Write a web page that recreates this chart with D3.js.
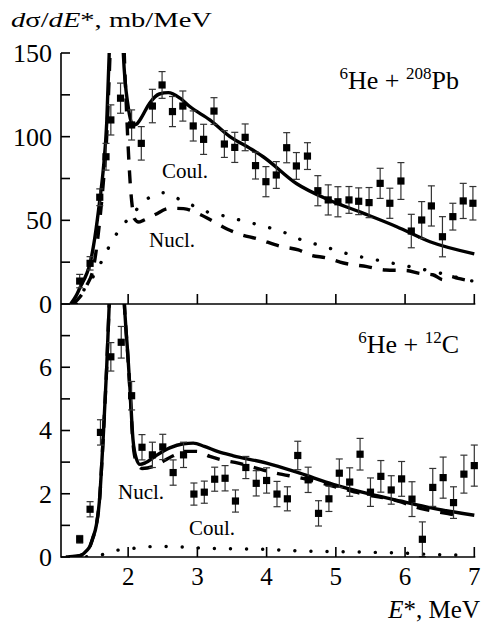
<!DOCTYPE html>
<html>
<head>
<meta charset="utf-8">
<script src="https://cdn.jsdelivr.net/npm/d3@7"></script>
<style>
  html, body { margin: 0; padding: 0; background: #fff; }
  svg { display: block; font-family: "Liberation Serif", "Times New Roman", serif; }
</style>
</head>
<body>
<svg id="chart" width="483" height="624"></svg>
<script>
// ---------- data ----------
const xTicks = [2, 3, 4, 5, 6, 7];
const pbTicksMajor = [0, 50, 100, 150];
const pbTicksMinor = [25, 75, 125];
const cTicksMajor = [0, 2, 4, 6];
const cTicksMinor = [1, 3, 5, 7];

// 6He + 208Pb measured points
const pbE = [1.30, 1.45, 1.59, 1.68, 1.75, 1.89, 2.05, 2.19, 2.35, 2.49, 2.64, 2.79, 2.94, 3.09, 3.24, 3.39, 3.54, 3.69, 3.84, 3.99,
             4.14, 4.29, 4.43, 4.59, 4.74, 4.89, 5.03, 5.19, 5.33, 5.48, 5.64, 5.78, 5.94, 6.09, 6.24, 6.38, 6.54, 6.69, 6.84, 6.98];
const pbVal = [13.7, 24.3, 63.8, 88, 110, 123, 107, 96, 118.3, 130.9, 115, 118.3, 106.4, 98.4, 115.3, 95.6, 93.6, 99.6, 82.7, 73.1,
               77.1, 93.4, 82.5, 88.4, 67.7, 62.2, 61.1, 62.2, 61.4, 60.6, 72.1, 60.2, 73.5, 43.6, 50.2, 58.6, 40.2, 52.2, 61.6, 60.2];
const pbErr = [4, 4, 5, 8, 9, 9, 9, 10, 10, 8, 9, 9, 9, 9, 8, 8, 9, 8, 8, 9,
               8, 9, 8, 8, 9, 9, 9, 8, 8, 9, 9, 9, 11, 10, 11, 12, 12, 8, 10.5, 10];

// 6He + 208Pb calculations: total, nuclear, Coulomb
const pbTotal = [[1.17, 0], [1.25, 5], [1.30, 9.4], [1.40, 18], [1.45, 24.3], [1.52, 40], [1.59, 62], [1.64, 80], [1.69, 108],
                 [1.725, 148], [1.76, 200], [1.83, 280], [1.90, 200], [1.93, 150], [2.0, 118], [2.07, 107], [2.12, 107.5],
                 [2.17, 110], [2.31, 120], [2.45, 125.5], [2.58, 126.3], [2.75, 123], [2.89, 118], [3.18, 110], [3.47, 100],
                 [3.76, 93], [3.95, 88], [4.43, 72], [4.91, 62], [5.40, 54.2], [5.88, 46.2], [6.36, 37.2], [7.0, 30]];
const pbNucl = [[1.2, 0], [1.3, 4], [1.4, 11], [1.5, 22], [1.59, 50], [1.64, 72], [1.69, 100], [1.73, 140], [1.78, 200],
                [1.85, 260], [1.91, 200], [1.95, 142], [1.97, 122], [2.0, 94], [2.03, 72], [2.06, 58], [2.09, 51], [2.15, 49],
                [2.22, 50], [2.39, 53.5], [2.6, 57.2], [2.8, 57], [3.04, 53.5], [3.2, 50], [3.42, 45], [3.59, 42], [3.86, 39],
                [4.22, 34.3], [4.46, 32.3], [4.63, 29.3], [4.87, 27.5], [5.11, 24.5], [5.45, 22.3], [5.72, 20.3], [6.02, 20],
                [6.21, 18.3], [6.4, 17.5], [6.55, 14.5], [6.65, 16.5], [6.75, 15.5], [7.0, 13.3]];
const pbCoul = [[1.25, 0], [1.37, 9], [1.52, 18], [1.66, 29], [1.76, 37], [1.86, 43.6], [2.05, 53], [2.27, 62.6], [2.5, 66.5],
                [2.74, 62.6], [2.97, 58.2], [3.2, 54.2], [3.44, 52.2], [3.66, 49.6], [3.9, 47.2], [4.04, 45.6], [4.29, 42.2],
                [4.51, 38.2], [4.75, 35.3], [4.99, 32.3], [5.23, 29.3], [5.47, 27.3], [5.71, 25.3], [5.95, 23.3], [6.19, 21.3],
                [6.5, 18.5], [6.91, 14.3], [7.0, 13.5]];

// 6He + 12C measured points
const cE = [1.30, 1.45, 1.60, 1.75, 1.90, 2.05, 2.20, 2.35, 2.50, 2.65, 2.80, 2.95, 3.10, 3.25, 3.40, 3.55, 3.70, 3.85, 4.00, 4.15,
            4.30, 4.45, 4.60, 4.75, 4.90, 5.05, 5.20, 5.35, 5.50, 5.65, 5.80, 5.95, 6.10, 6.25, 6.40, 6.55, 6.70, 6.85, 7.00];
const cVal = [0.56, 1.51, 3.94, 6.33, 6.79, 5.10, 3.47, 3.23, 3.48, 2.67, 3.23, 1.99, 2.05, 2.46, 2.49, 1.77, 2.83, 2.33, 2.42, 1.99,
              1.84, 3.21, 2.44, 1.38, 1.84, 2.65, 2.37, 3.25, 2.05, 2.55, 2.12, 2.47, 1.83, 0.56, 2.20, 2.51, 1.72, 2.62, 2.89];
const cErr = [0.12, 0.24, 0.4, 0.45, 0.5, 0.45, 0.4, 0.4, 0.4, 0.4, 0.4, 0.35, 0.35, 0.38, 0.4, 0.35, 0.35, 0.4, 0.4, 0.4,
              0.38, 0.45, 0.4, 0.4, 0.4, 0.45, 0.45, 0.5, 0.45, 0.5, 0.45, 0.55, 0.55, 0.55, 0.6, 0.65, 0.5, 0.6, 0.65];

// 6He + 12C calculations: total, nuclear, Coulomb
const cTotal = [[1.10, 0], [1.16, 0.01], [1.30, 0.04], [1.40, 0.2], [1.45, 0.35], [1.49, 0.6], [1.54, 1.0], [1.59, 1.91],
                [1.62, 3.0], [1.645, 4.0], [1.69, 6.0], [1.725, 7.9], [1.76, 9.5], [1.83, 11], [1.91, 9.5], [1.95, 7.83],
                [2.0, 6.24], [2.03, 5.19], [2.07, 3.71], [2.12, 3.1], [2.17, 2.93], [2.25, 2.98], [2.4, 3.2], [2.6, 3.45],
                [2.8, 3.58], [2.94, 3.6], [3.1, 3.5], [3.3, 3.33], [3.52, 3.2], [4.0, 2.97], [4.48, 2.65], [4.96, 2.30],
                [5.44, 2.02], [5.93, 1.77], [6.41, 1.54], [7.0, 1.32]];
const cNucl = [[1.16, 0], [1.30, 0.04], [1.40, 0.2], [1.45, 0.35], [1.49, 0.6], [1.54, 1.0], [1.59, 1.9], [1.62, 3.0],
               [1.645, 4.0], [1.69, 6.0], [1.725, 7.9], [1.76, 9.5], [1.83, 11], [1.91, 9.5], [1.95, 7.8], [2.0, 6.2],
               [2.03, 5.1], [2.07, 3.6], [2.12, 3.0], [2.2, 2.8], [2.36, 2.86], [2.5, 3.02], [2.65, 3.2], [2.82, 3.34],
               [2.99, 3.34], [3.18, 3.18], [3.35, 3.07], [3.59, 2.97], [3.71, 2.9], [4.0, 2.72], [4.62, 2.44], [5.06, 2.18],
               [5.44, 1.97], [5.83, 1.81], [6.22, 1.54], [6.65, 1.36], [6.8, 1.31]];
const cCoul = [[1.4, 0.01], [1.55, 0.03], [1.69, 0.12], [1.86, 0.22], [2.11, 0.28], [2.36, 0.33], [2.6, 0.33], [2.85, 0.31],
               [3.1, 0.28], [3.5, 0.26], [4.0, 0.24], [4.5, 0.19], [5.0, 0.17], [5.5, 0.15], [6.0, 0.12], [6.5, 0.07], [6.9, 0.06]];

// ---------- layout ----------
const svg = d3.select("#chart");
const xLeft = 61, xRight = 474.3;
const x = d3.scaleLinear().domain([1.03, 7]).range([xLeft, xRight]);
const yPb = d3.scaleLinear().domain([0, 150]).range([304, 53]);
const yC = d3.scaleLinear().domain([0, 8]).range([557, 304]);

const defs = svg.append("defs");
defs.append("clipPath").attr("id", "clipPb").append("rect")
  .attr("x", xLeft).attr("y", 53).attr("width", xRight - xLeft + 2).attr("height", 304 - 53);
defs.append("clipPath").attr("id", "clipC").append("rect")
  .attr("x", xLeft).attr("y", 304).attr("width", xRight - xLeft + 2).attr("height", 557 - 304);

function drawPanel(y, clipId, curves, E, vals, errs) {
  const g = svg.append("g");
  const plot = g.append("g").attr("clip-path", `url(#${clipId})`);
  const line = d3.line().x(d => x(d[0])).y(d => y(d[1])).curve(d3.curveMonotoneX);

  // theory curves
  plot.append("path").datum(curves.coul).attr("d", line)
    .attr("fill", "none").attr("stroke", "#000").attr("stroke-width", 3.4)
    .attr("stroke-linecap", "round").attr("stroke-dasharray", "0.1 16");
  plot.append("path").datum(curves.nucl).attr("d", line)
    .attr("fill", "none").attr("stroke", "#000").attr("stroke-width", 3.4)
    .attr("stroke-dasharray", "13 11");
  plot.append("path").datum(curves.total).attr("d", line)
    .attr("fill", "none").attr("stroke", "#000").attr("stroke-width", 3.4);

  // measured points with error bars
  const pts = E.map((e, i) => ({ e, v: vals[i], s: errs[i] }));
  const eb = g.append("g").attr("stroke", "#333").attr("stroke-width", 1.2).attr("fill", "none");
  pts.forEach(p => {
    const cx = x(p.e), y1 = y(p.v - p.s), y2 = y(p.v + p.s);
    eb.append("line").attr("x1", cx).attr("x2", cx).attr("y1", y1).attr("y2", y2);
    eb.append("line").attr("x1", cx - 3.5).attr("x2", cx + 3.5).attr("y1", y1).attr("y2", y1);
    eb.append("line").attr("x1", cx - 3.5).attr("x2", cx + 3.5).attr("y1", y2).attr("y2", y2);
  });
  g.append("g").selectAll("rect").data(pts).join("rect")
    .attr("x", d => x(d.e) - 3.6).attr("y", d => y(d.v) - 3.6)
    .attr("width", 7.2).attr("height", 7.2).attr("fill", "#000");
}

drawPanel(yPb, "clipPb", { total: pbTotal, nucl: pbNucl, coul: pbCoul }, pbE, pbVal, pbErr);
drawPanel(yC, "clipC", { total: cTotal, nucl: cNucl, coul: cCoul }, cE, cVal, cErr);

// ---------- axes ----------
const axG = svg.append("g").attr("stroke", "#000").attr("stroke-width", 1.6);
axG.append("line").attr("x1", xLeft).attr("x2", xLeft).attr("y1", 53).attr("y2", 557.8);
axG.append("line").attr("x1", xLeft).attr("x2", xRight + 1).attr("y1", 304).attr("y2", 304);
axG.append("line").attr("x1", xLeft).attr("x2", xRight + 1).attr("y1", 557).attr("y2", 557);

// y ticks (pointing into the plot)
[[yPb, pbTicksMajor.concat(pbTicksMinor)], [yC, cTicksMajor.concat(cTicksMinor)]].forEach(([y, ts]) => {
  ts.forEach(t => axG.append("line").attr("x1", xLeft).attr("x2", xLeft + 9).attr("y1", y(t)).attr("y2", y(t)));
});
// x ticks on both panels
[304, 557].forEach(y0 => {
  xTicks.forEach(t => axG.append("line").attr("x1", x(t)).attr("x2", x(t)).attr("y1", y0).attr("y2", y0 - 10));
});

// tick labels
const lab = svg.append("g").attr("fill", "#000").attr("font-size", 26);
pbTicksMajor.forEach(t => lab.append("text").attr("x", 52).attr("y", yPb(t)).attr("dy", "0.34em")
  .attr("text-anchor", "end").text(t));
cTicksMajor.forEach(t => lab.append("text").attr("x", 52).attr("y", yC(t)).attr("dy", "0.34em")
  .attr("text-anchor", "end").text(t));
xTicks.forEach(t => lab.append("text").attr("x", x(t)).attr("y", 585).attr("text-anchor", "middle")
  .attr("font-size", 25).text(t));

// axis titles
const yt = svg.append("text").attr("x", 11).attr("y", 27).attr("font-size", 22)
  .attr("textLength", 201).attr("lengthAdjust", "spacingAndGlyphs");
yt.append("tspan").attr("font-style", "italic").text("d");
yt.append("tspan").text("σ/");
yt.append("tspan").attr("font-style", "italic").text("dE");
yt.append("tspan").text("*, mb/MeV");

const xt = svg.append("text").attr("x", 480).attr("y", 618).attr("font-size", 25).attr("text-anchor", "end");
xt.append("tspan").attr("font-style", "italic").text("E");
xt.append("tspan").text("*, MeV");

// reaction labels
function reaction(xr, yb, a, b, c) {
  const t = svg.append("text").attr("x", xr).attr("y", yb).attr("font-size", 26).attr("text-anchor", "end");
  t.append("tspan").attr("font-size", 17).attr("dy", -10).text(a);
  t.append("tspan").attr("dy", 10).text("He + ");
  t.append("tspan").attr("font-size", 17).attr("dy", -10).text(b);
  t.append("tspan").attr("dy", 10).text(c);
}
reaction(459, 89, "6", "208", "Pb");
reaction(459, 353, "6", "12", "C");

// curve labels
const cl = svg.append("g").attr("font-size", 21);
cl.append("text").attr("x", 162).attr("y", 178).text("Coul.");
cl.append("text").attr("x", 149).attr("y", 247).text("Nucl.");
cl.append("text").attr("x", 118).attr("y", 499).text("Nucl.");
cl.append("text").attr("x", 189).attr("y", 535).text("Coul.");
</script>
</body>
</html>
